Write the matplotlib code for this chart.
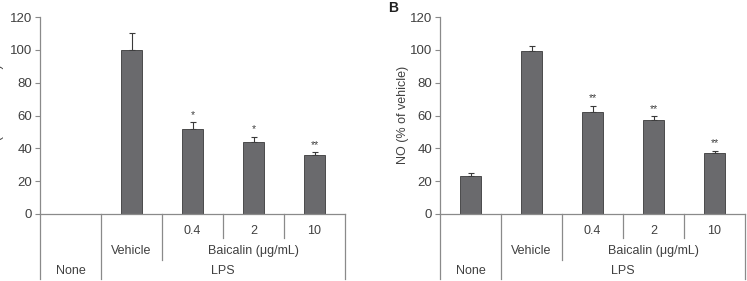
import matplotlib.pyplot as plt

plt.rcParams['font.family'] = ['Liberation Sans', 'DejaVu Sans']

# Data
groups = ['None', 'Vehicle', '0.4', '2', '10']
il6_vals = [0, 100, 51.5, 44, 36]
il6_err = [0, 10.5, 4.5, 3, 1.5]
il6_sig = ['', '', '*', '*', '**']
no_vals = [23, 99.5, 62, 57.5, 37]
no_err = [2, 3, 4, 2, 1.5]
no_sig = ['', '', '**', '**', '**']
yticks = [0, 20, 40, 60, 80, 100, 120]

W, H = 747, 281
fig = plt.figure(figsize=(W / 100, H / 100), dpi=100)

bar_color = '#6a6a6d'
line_color = '#8a8a8a'
text_color = '#404040'
u = 120 / 197.0  # data units per pixel


def panel(left_px, vals, errs, sigs, ylabel, label_x):
    ax = fig.add_axes([left_px / W, (H - 214) / H, 305 / W, 197 / H])
    x = list(range(len(groups)))
    shown = [i for i in x if vals[i] > 0]
    ax.bar([x[i] for i in shown], [vals[i] for i in shown], width=0.36,
           color=bar_color, edgecolor='#3a3a3a', linewidth=0.6, zorder=2)
    ax.errorbar([x[i] for i in shown], [vals[i] for i in shown],
                yerr=[[0] * len(shown), [errs[i] for i in shown]],
                fmt='none', ecolor='#3a3a3a', elinewidth=0.8, capsize=2.3,
                capthick=0.8, zorder=1)
    for i in shown:
        if sigs[i]:
            ax.text(x[i], vals[i] + errs[i] + 1.5, sigs[i], ha='center',
                    va='bottom', fontsize=7.5, color=text_color)
    ax.set_xlim(-0.5, 4.5)
    ax.set_ylim(0, 120)
    ax.set_yticks(yticks)
    ax.set_xticks([])
    ax.tick_params(axis='y', direction='out', length=3.5, width=0.8,
                   colors=line_color, labelcolor=text_color, labelsize=9.5, pad=2)
    for s in ['top', 'right']:
        ax.spines[s].set_visible(False)
    for s in ['left', 'bottom']:
        ax.spines[s].set_color(line_color)
        ax.spines[s].set_linewidth(0.9)

    # category table below the axis
    kw = dict(color=line_color, lw=0.9, clip_on=False)
    y_short = -24 * u
    y_mid = -46 * u
    y_full = -65 * u
    ax.plot([-0.5, -0.5], [0, y_full], **kw)
    ax.plot([0.5, 0.5], [0, y_full], **kw)
    ax.plot([4.5, 4.5], [0, y_full], **kw)
    ax.plot([1.5, 1.5], [0, y_mid], **kw)
    ax.plot([2.5, 2.5], [0, y_short], **kw)
    ax.plot([3.5, 3.5], [0, y_short], **kw)
    tk = dict(ha='center', va='center', fontsize=9, color=text_color, clip_on=False)
    for i in range(2, 5):
        ax.text(i, -17 * u, groups[i], **tk)
    ax.text(1, -37 * u, 'Vehicle', **tk)
    ax.text(3, -37 * u, 'Baicalin (\u03bcg/mL)', **tk)
    ax.text(0, -57 * u, 'None', **tk)
    ax.text(2.5, -57 * u, 'LPS', **tk)

    fig.text(label_x / W, (H - 115) / H, ylabel, rotation=90, ha='center',
             va='center', fontsize=9, color=text_color)
    return ax


panel(40, il6_vals, il6_err, il6_sig, 'IL-6 (% of vehicle)', -2)
panel(440, no_vals, no_err, no_sig, 'NO (% of vehicle)', 403)
fig.text(393 / W, (H - 8) / H, 'B', ha='center', va='center', fontsize=10,
         fontweight='bold', color='#202020')

fig.savefig('out.png', dpi=100)
